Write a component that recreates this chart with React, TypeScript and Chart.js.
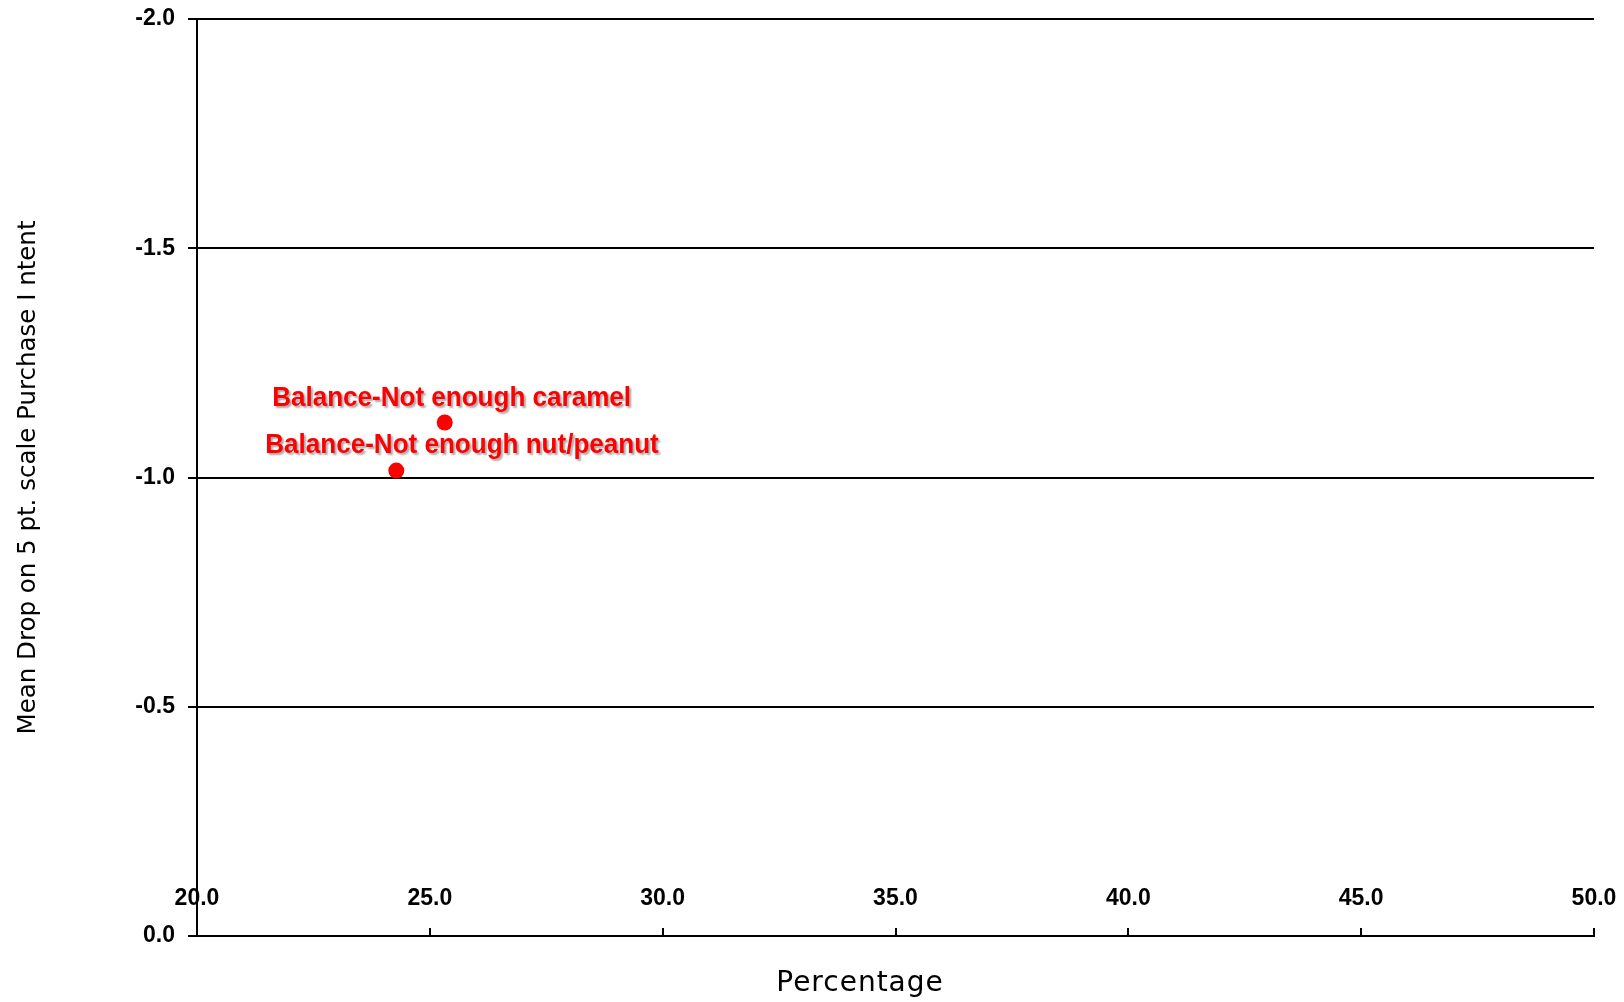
import { useEffect, useRef } from "react";
import { Chart, registerables } from "chart.js";

Chart.register(...registerables);

// ---- data ----
const pointLabels: string[] = ["Balance-Not enough caramel", "Balance-Not enough nut/peanut"];
const percentages: number[] = [25.32, 24.28];
const meanDrops: number[] = [-1.12, -1.015];
const xRange = { min: 20, max: 50, step: 5 };
const yRange = { min: -2, max: 0, step: 0.5 };
const xTitle = "Percentage";
const yTitle = "Mean Drop on 5 pt. scale Purchase I ntent";

// ---- label layout (manual placement like the original) ----
const labelOffsets = [
  { dx: -172.6, dy: -16 },
  { dx: -131, dy: -18 },
];

const tickFont = { family: '"Liberation Sans", Arial, sans-serif', size: 23, weight: "bold" as const };

const pointLabelPlugin = {
  id: "pointLabels",
  afterDatasetsDraw(chart: any) {
    const ctx = chart.ctx;
    const meta = chart.getDatasetMeta(0);
    ctx.save();
    ctx.font = 'bold 28px "Liberation Sans", Arial, sans-serif';
    ctx.fillStyle = "#FF0000";
    ctx.textAlign = "left";
    ctx.textBaseline = "alphabetic";
    ctx.shadowColor = "rgba(0,0,0,0.35)";
    ctx.shadowOffsetX = 2;
    ctx.shadowOffsetY = 2;
    ctx.shadowBlur = 2;
    meta.data.forEach((el: any, i: number) => {
      const off = labelOffsets[i] || { dx: 0, dy: -16 };
      const x = el.x + off.dx;
      const y = el.y + off.dy;
      ctx.save();
      ctx.translate(x, y);
      ctx.scale(0.93, 1);
      ctx.fillText(pointLabels[i], 0, 0);
      ctx.restore();
    });
    ctx.restore();
  },
};

const xTitlePlugin = {
  id: "xTitle",
  afterDraw(chart: any) {
    const ctx = chart.ctx;
    const area = chart.chartArea;
    ctx.save();
    ctx.font = '28px "DejaVu Sans", Verdana, sans-serif';
    try {
      (ctx as any).letterSpacing = "1px";
    } catch (e) {}
    ctx.fillStyle = "#000";
    ctx.textAlign = "center";
    ctx.textBaseline = "alphabetic";
    const cx = area.left + (area.right - area.left) * 0.4746;
    ctx.fillText(xTitle, cx, area.bottom + 55);
    ctx.restore();
  },
};

export default function App() {
  const ref = useRef<HTMLCanvasElement | null>(null);

  useEffect(() => {
    if (!ref.current) return;
    const chart = new Chart(ref.current, {
      type: "scatter",
      data: {
        datasets: [
          {
            label: "items",
            data: percentages.map((p, i) => ({ x: p, y: meanDrops[i] })),
            backgroundColor: "#FF0000",
            borderColor: "#FF0000",
            borderWidth: 0,
            pointRadius: 8,
            pointHoverRadius: 8,
          },
        ],
      },
      options: {
        animation: false,
        responsive: true,
        maintainAspectRatio: false,
        layout: { padding: { top: 19, right: 30, left: 0, bottom: 0 } },
        plugins: { legend: { display: false }, tooltip: { enabled: false } },
        scales: {
          x: {
            type: "linear",
            position: "bottom",
            min: xRange.min,
            max: xRange.max,
            ticks: {
              stepSize: xRange.step,
              callback: (v: any) => Number(v).toFixed(1),
              font: tickFont,
              color: "#000",
              mirror: true,
              padding: 24,
              maxRotation: 0,
              autoSkip: false,
            },
            grid: { drawOnChartArea: false, drawTicks: true, tickLength: -8, color: "#000", lineWidth: 2 },
            border: { display: true, color: "#000", width: 2 },
            afterFit: (s: any) => {
              s.height = 66;
              s.paddingLeft = 0;
              s.paddingRight = 0;
              s.paddingTop = 0;
              s.paddingBottom = 0;
            },
          },
          y: {
            type: "linear",
            min: yRange.min,
            max: yRange.max,
            reverse: true,
            ticks: {
              stepSize: yRange.step,
              callback: (v: any) => Number(v).toFixed(1),
              font: tickFont,
              color: "#000",
              padding: 13,
            },
            grid: { color: "#000", lineWidth: 2, tickLength: 9 },
            border: { display: true, color: "#000", width: 2 },
            title: {
              display: true,
              text: yTitle,
              font: { family: '"DejaVu Sans", Verdana, sans-serif', size: 24.5 },
              color: "#000",
              padding: { top: 14, bottom: 0 },
            },
            afterFit: (s: any) => {
              s.width = 197;
              s.paddingTop = 0;
              s.paddingBottom = 0;
              s.paddingLeft = 0;
              s.paddingRight = 0;
            },
          },
        },
      },
      plugins: [pointLabelPlugin, xTitlePlugin],
    } as any);
    return () => chart.destroy();
  }, []);

  return (
    <div style={{ position: "absolute", left: 0, top: 0, width: 1624, height: 1002, background: "#fff" }}>
      <canvas ref={ref} />
    </div>
  );
}
